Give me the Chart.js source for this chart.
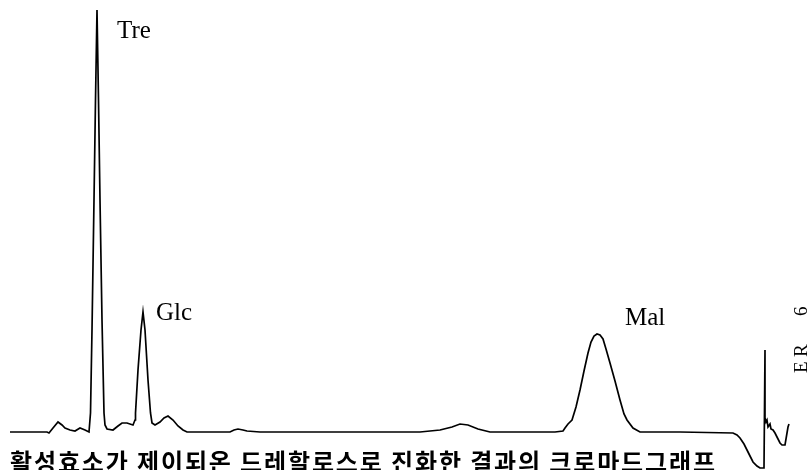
<!DOCTYPE html>
<html>
<head>
<meta charset="utf-8">
<script src="https://cdn.jsdelivr.net/npm/chart.js@4.4.1/dist/chart.umd.min.js"></script>
<style>
    html, body { margin: 0; padding: 0; background: #fff; }
    #wrap { width: 810px; height: 470px; }
</style>
</head>
<body>
<div id="wrap"><canvas id="chart"></canvas></div>
<script>
// retention time (arbitrary units) and detector signal
const time = [
    10, 47, 49, 53, 58, 62, 65, 70, 75, 80, 85, 89,
    90.5, 92, 94, 95.5, 97, 98.5, 100, 102, 104, 105, 107, 113, 118, 122, 127, 133, 135,
    135.5, 138, 141, 143, 145, 148, 150.5, 152, 155, 160, 164, 168, 173, 178, 183, 187,
    230, 234, 238, 243, 247, 260, 300, 350, 420, 440, 452, 460, 468, 478, 490,
    555, 563, 565, 568, 572, 576, 580, 584, 588, 591, 594, 597, 600, 603, 606, 610, 615, 620, 624, 627, 633, 640,
    680, 733, 737, 740, 744, 747, 750, 753, 757, 760, 764,
    765, 765, 766, 767, 768, 770, 771, 773, 775, 777, 780, 782, 785, 787, 788, 789
];
const signal = [
    0, 0, -1, 4, 10, 7, 4, 2, 1, 4, 2, 0,
    19, 102, 232, 332, 422, 332, 232, 112, 19, 7, 3, 2, 6, 9, 9, 7, 12,
    19, 62, 102, 120, 102, 52, 19, 9, 7, 10, 14, 16, 12, 6, 2, 0,
    0, 2, 3, 2, 1, 0, 0, 0, 0, 2, 5, 8, 7, 3, 0,
    0, 1, 4, 8, 12, 25, 42, 61, 79, 90, 96, 98, 97, 93, 83, 69, 51, 32, 18, 12, 4, 0,
    0, -1, -3, -6, -12, -18, -24, -30, -34, -36, -36,
    82, 14, 10, 12, 5, 8, 3, 2, -1, -5, -11, -13, -13, -1, 5, 8
];

const peakNames = ['Tre', 'Glc', 'Mal'];
const peakTimes = [97, 143, 597];
const peakSignals = [422, 120, 98];

const caption = '활성효소가 제이되온 드레할로스로 진화한 결과의 크로마드그래프';
const sideNote = ['E', 'R', '6'];

const points = time.map((t, i) => ({ x: t, y: signal[i] }));

const labelOffsets = [[20, 28], [13, 8], [28, -9]];
const sideOffsets = [0, 16, 57];

const textPlugin = {
    id: 'textPlugin',
    afterDraw(chart) {
        const ctx = chart.ctx;
        const xs = chart.scales.x;
        const ys = chart.scales.y;
        ctx.save();
        ctx.fillStyle = '#000';
        ctx.textBaseline = 'alphabetic';
        ctx.font = '25px "Liberation Serif", "DejaVu Serif", serif';
        peakNames.forEach((name, i) => {
            const px = xs.getPixelForValue(peakTimes[i]) + labelOffsets[i][0];
            const py = ys.getPixelForValue(peakSignals[i]) + labelOffsets[i][1];
            ctx.fillText(name, px, py);
        });

        // rotated figure tag on the right edge
        ctx.save();
        ctx.translate(807, 373);
        ctx.rotate(-Math.PI / 2);
        ctx.font = '19px "Liberation Serif", "DejaVu Serif", serif';
        sideNote.forEach((s, i) => ctx.fillText(s, sideOffsets[i], 0));
        ctx.restore();

        // caption, cut off at the bottom like the scan; spread to the scanned width
        ctx.font = 'bold 24px "Noto Sans CJK KR", sans-serif';
        ctx.textBaseline = 'top';
        const chars = Array.from(caption);
        const natural = ctx.measureText(caption).width;
        const extra = (705 - natural) / (chars.length - 1);
        let cx = 10;
        chars.forEach(ch => {
            ctx.fillText(ch, cx, 450);
            cx += ctx.measureText(ch).width + extra;
        });
        ctx.restore();
    }
};

new Chart(document.getElementById('chart'), {
    type: 'line',
    data: {
        datasets: [{
            data: points,
            borderColor: '#000',
            borderWidth: 1.7,
            pointRadius: 0,
            tension: 0,
            fill: false
        }]
    },
    options: {
        responsive: true,
        maintainAspectRatio: false,
        animation: false,
        layout: { padding: 0 },
        plugins: {
            legend: { display: false },
            tooltip: { enabled: false }
        },
        scales: {
            x: { type: 'linear', min: 0, max: 810, display: false },
            y: { type: 'linear', min: -38, max: 432, display: false }
        }
    },
    plugins: [textPlugin]
});
</script>
</body>
</html>
